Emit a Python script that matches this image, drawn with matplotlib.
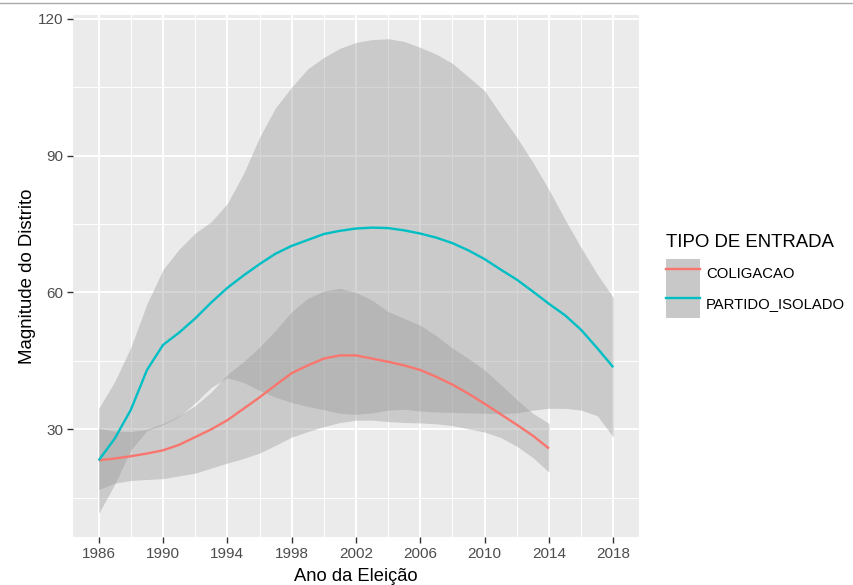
import numpy as np
import matplotlib
matplotlib.use("Agg")
import matplotlib.pyplot as plt
from matplotlib.patches import Patch
from matplotlib.lines import Line2D

plt.rcParams['font.family'] = ['Liberation Sans', 'DejaVu Sans']

# loess fits, one value per election year
years_col = list(range(1986, 2015))
fit_col = [23.2, 23.6, 24.1, 24.7, 25.4, 26.6, 28.3, 30.0, 32.0, 34.5,
           37.0, 39.7, 42.3, 44.0, 45.5, 46.2, 46.2, 45.5, 44.8, 44.0,
           43.0, 41.5, 39.8, 37.8, 35.6, 33.3, 31.0, 28.6, 25.8]
low_col = [16.8, 18.2, 18.8, 19.0, 19.2, 19.8, 20.4, 21.5, 22.6, 23.6,
           24.8, 26.5, 28.3, 29.5, 30.6, 31.5, 32.0, 32.0, 31.7, 31.5,
           31.4, 31.2, 30.8, 30.1, 29.4, 28.2, 26.3, 23.8, 20.6]
high_col = [30.2, 29.6, 29.5, 30.0, 31.3, 33.0, 35.2, 38.2, 42.0, 44.8,
            48.0, 51.7, 55.8, 58.7, 60.3, 60.9, 60.0, 58.3, 55.8, 54.3,
            52.8, 50.5, 47.8, 45.5, 43.0, 39.8, 36.5, 33.5, 31.3]

years_iso = list(range(1986, 2019))
fit_iso = [23.2, 28.0, 34.3, 43.0, 48.5, 51.2, 54.3, 57.8, 61.0, 63.7,
           66.2, 68.5, 70.2, 71.5, 72.8, 73.5, 74.0, 74.2, 74.1, 73.6,
           72.9, 72.0, 70.8, 69.2, 67.3, 65.0, 62.8, 60.2, 57.5, 55.0,
           51.8, 47.8, 43.6]
low_iso = [11.6, 18.0, 25.5, 29.7, 31.0, 32.8, 35.8, 39.2, 41.3, 40.3,
           38.5, 37.0, 35.9, 35.0, 34.3, 33.5, 33.3, 33.6, 34.2, 34.4,
           34.0, 33.8, 33.7, 33.6, 33.5, 33.5, 33.6, 34.2, 34.6, 34.6,
           34.2, 33.0, 28.3]
high_iso = [34.6, 40.5, 48.0, 57.5, 65.0, 69.5, 73.0, 75.5, 79.5, 86.0,
            94.0, 100.5, 105.0, 109.0, 111.5, 113.5, 114.8, 115.4, 115.6, 115.0,
            113.7, 112.2, 110.2, 107.2, 104.2, 99.0, 94.0, 88.5, 82.5, 76.0,
            69.8, 64.0, 58.9]

labels = ["COLIGACAO", "PARTIDO_ISOLADO"]
colors = ["#F8766D", "#00BFC4"]
x_ticks = list(range(1986, 2019, 4))
y_ticks = [30, 60, 90, 120]

fig = plt.figure(figsize=(8.54, 5.85), dpi=100)
ax = fig.add_axes([73 / 854, 1 - 537 / 585, (639 - 73) / 854, (537 - 15) / 585])
ax.set_facecolor("#EBEBEB")

series = [(years_col, fit_col, low_col, high_col),
          (years_iso, fit_iso, low_iso, high_iso)]
# ggplot draws ribbon then line, group after group
for (yr, fit, lo, hi), c in zip(series, colors):
    ax.fill_between(yr, lo, hi, color="#999999", alpha=0.4, lw=0, zorder=2)
    ax.plot(yr, fit, color=c, lw=1.7, zorder=3, solid_capstyle="butt")

ax.set_xlim(1984.4, 2019.6)
ax.set_ylim(6.4, 120.8)
ax.set_xticks(x_ticks)
ax.set_yticks(y_ticks)
ax.set_xticks([t + 2 for t in x_ticks[:-1]], minor=True)
ax.set_yticks([15, 45, 75, 105], minor=True)
ax.grid(which="major", color="white", lw=1.4, zorder=1)
ax.grid(which="minor", color="white", lw=0.7, zorder=1)
ax.set_axisbelow(True)
for s in ax.spines.values():
    s.set_visible(False)
ax.tick_params(which="major", length=4, width=1, color="#333333",
               labelcolor="#4D4D4D", labelsize=11, pad=3)
ax.tick_params(which="minor", length=0)

ax.set_xlabel("Ano da Eleição", fontsize=13.2, color="black", labelpad=5)
ax.set_ylabel("Magnitude do Distrito", fontsize=13.4, color="black", labelpad=1)

handles = []
for c in colors:
    handles.append((Patch(facecolor="#C8C8C8", edgecolor="none"),
                    Line2D([], [], color=c, lw=1.7)))
leg = fig.legend(handles, labels, title="TIPO DE ENTRADA", loc="upper left",
                 bbox_to_anchor=(660 / 854, 1 - 228 / 585), frameon=False,
                 fontsize=10.7, title_fontsize=13.4, handlelength=2.3,
                 handleheight=2.65, labelspacing=0.0, handletextpad=0.4,
                 borderaxespad=0)
leg._legend_box.align = "left"
leg._legend_box.sep = 6

fig.add_artist(Line2D([0, 1], [1 - 3 / 585, 1 - 3 / 585], color="#AAAAAA", lw=1))

fig.savefig("out.png", dpi=100)
